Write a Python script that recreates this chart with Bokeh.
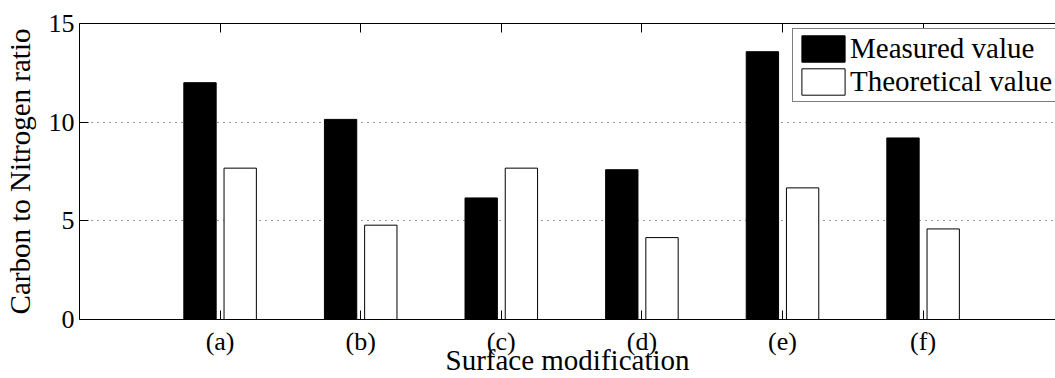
from bokeh.plotting import figure
from bokeh.models import Range1d, FixedTicker, LinearAxis, Legend, LegendItem, ColumnDataSource
from bokeh.embed import file_html
from bokeh.resources import INLINE

# ---- data ----
categories = ["(a)", "(b)", "(c)", "(d)", "(e)", "(f)"]
measured = [12.0, 10.14, 6.16, 7.59, 13.57, 9.2]
theoretical = [7.67, 4.78, 7.67, 4.15, 6.67, 4.59]
y_ticks = [0, 5, 10, 15]

FONT = "Liberation Serif"
xs = [i + 1 for i in range(len(categories))]
offset = 0.143
bar_w = 0.23

src = ColumnDataSource(dict(
    xm=[x - offset for x in xs],
    xt=[x + offset for x in xs],
    measured=measured,
    theoretical=theoretical,
))

p = figure(width=1055, height=378,
           x_range=Range1d(0, 976 / 140.6), y_range=Range1d(0, 15),
           output_backend="svg", toolbar_location=None,
           min_border_left=79, min_border_right=0,
           min_border_top=23, min_border_bottom=59)
p.outline_line_color = None
p.background_fill_color = "white"
p.border_fill_color = "white"

r1 = p.vbar(x="xm", top="measured", width=bar_w, bottom=0, source=src,
            fill_color="black", line_color="black", line_width=1)
r2 = p.vbar(x="xt", top="theoretical", width=bar_w, bottom=0, source=src,
            fill_color="white", line_color="black", line_width=1)

# bottom axis
xa = p.xaxis[0]
xa.ticker = FixedTicker(ticks=xs)
xa.major_label_overrides = {x: c for x, c in zip(xs, categories)}
xa.major_tick_in = 9
xa.major_tick_out = 0
xa.minor_tick_line_color = None
xa.major_label_standoff = 7
xa.major_label_text_font = FONT
xa.major_label_text_font_size = "26px"
xa.major_label_text_color = "black"
xa.axis_line_color = "black"
xa.major_tick_line_color = "black"
xa.axis_label = "Surface modification"
xa.axis_label_text_font = FONT
xa.axis_label_text_font_size = "29px"
xa.axis_label_text_font_style = "normal"
xa.axis_label_text_color = "black"
xa.axis_label_standoff = -15

# left axis
ya = p.yaxis[0]
ya.ticker = FixedTicker(ticks=y_ticks)
ya.major_tick_in = 9
ya.major_tick_out = 0
ya.minor_tick_line_color = None
ya.major_label_standoff = 5
ya.major_label_text_font = FONT
ya.major_label_text_font_size = "26px"
ya.major_label_text_color = "black"
ya.axis_label = "Carbon to Nitrogen ratio"
ya.axis_label_text_font = FONT
ya.axis_label_text_font_size = "29px"
ya.axis_label_text_font_style = "normal"
ya.axis_label_text_color = "black"
ya.axis_label_standoff = 10
ya.axis_line_color = "black"

# top axis (ticks only)
ta = LinearAxis(ticker=FixedTicker(ticks=xs), major_tick_in=9, major_tick_out=0,
                minor_tick_line_color=None,
                major_label_overrides={x: "" for x in xs},
                major_label_standoff=0, axis_line_color="black")
p.add_layout(ta, "above")

# grid
p.xgrid.visible = False
p.ygrid.ticker = FixedTicker(ticks=[5, 10])
p.ygrid.grid_line_color = "#333333"
p.ygrid.grid_line_dash = "1 5"
p.ygrid.grid_line_width = 1

legend = Legend(items=[LegendItem(label="Measured value", renderers=[r1]),
                       LegendItem(label="Theoretical value", renderers=[r2])],
                location=(713, 217),
                glyph_width=54, glyph_height=33, label_standoff=0,
                spacing=0, padding=3, margin=0,
                label_text_font=FONT, label_text_font_size="29px",
                label_text_color="black",
                border_line_color="black", border_line_width=1.5,
                background_fill_color="white", background_fill_alpha=1.0)
p.add_layout(legend)

open("out.html", "w").write(file_html(p, INLINE))
